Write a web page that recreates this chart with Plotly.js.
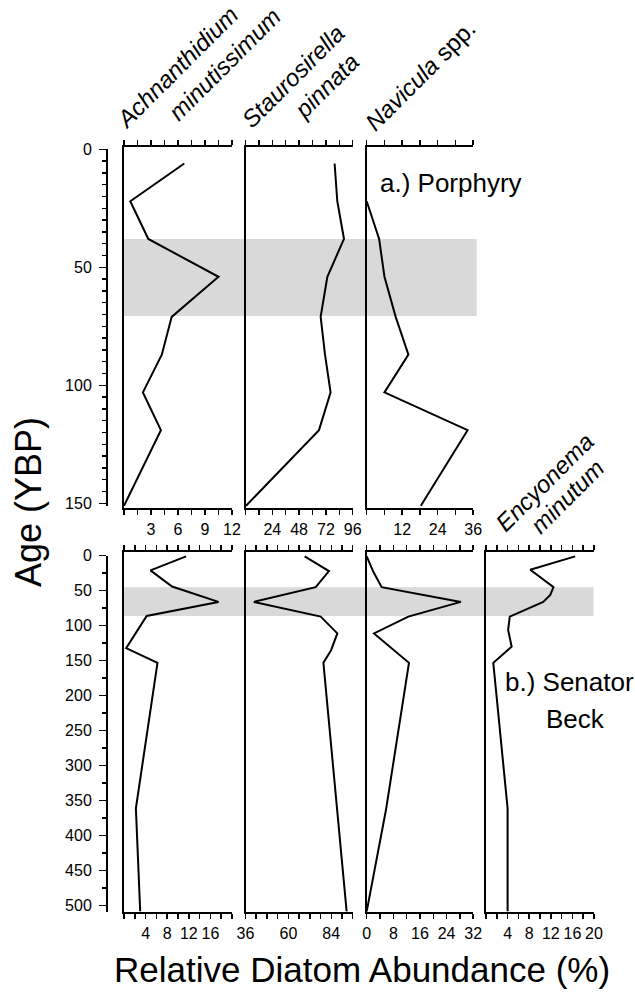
<!DOCTYPE html>
<html>
<head>
<meta charset="utf-8">
<script src="https://cdn.plot.ly/plotly-3.0.1.min.js"></script>
<style>
html,body{margin:0;padding:0;background:#fff;}
#chart{width:635px;height:996px;}
</style>
</head>
<body>
<div id="chart"></div>
<script>
// ---------------- DATA ----------------
// a.) Porphyry
const porAge = [6, 22, 38, 54, 71, 87, 103, 119, 151];
const porAchnanthidium = [6.7, 0.7, 2.7, 10.5, 5.3, 4.2, 2.1, 4.1, 0];
const porStaurosirella = [79.8, 82.2, 88.2, 73.3, 67.3, 71.2, 76.2, 65.8, 0.5];
const porNaviculaAge = [22, 38, 54, 71, 87, 103, 119, 151];
const porNavicula = [0, 4.2, 6.0, 9.8, 14.1, 6.0, 34.1, 18.3];
const porBand = [38, 70.6];

// b.) Senator Beck
const sbAchAge = [1, 21, 44, 66, 86, 132, 153, 361, 508];
const sbAchnanthidium = [11.5, 4.9, 8.9, 17.5, 4.2, 0.4, 6.2, 2.2, 3.0];
const sbStaAge = [1, 22, 45, 66, 87, 111, 135, 153, 508];
const sbStaurosirella = [69.1, 82.7, 75.3, 40.7, 78.1, 87.4, 83.9, 79.6, 92.6];
const sbNavAge = [1, 23, 45, 66, 87, 111, 153, 363, 508];
const sbNavicula = [0, 2.0, 4.5, 28.3, 12.5, 2.2, 12.7, 5.8, 0];
const sbEncAge = [1, 20, 45, 56, 66, 87, 106, 130, 153, 361, 508];
const sbEncyonema = [16.5, 8.2, 12.5, 11.9, 10.6, 4.4, 4.1, 4.75, 1.35, 4.0, 4.0];
const sbBand = [45, 86];

// tick values / labels
const porAchTicks = [0, 1.5, 3, 4.5, 6, 7.5, 9, 10.5, 12];
const porAchLabels = ['', '', '3', '', '6', '', '9', '', '12'];
const porStaTicks = [0, 12, 24, 36, 48, 60, 72, 84, 96];
const porStaLabels = ['', '', '24', '', '48', '', '72', '', '96'];
const porNavTicks = [0, 6, 12, 18, 24, 30, 36];
const porNavLabels = ['', '', '12', '', '24', '', '36'];
const sbAchTicks = [0, 2, 4, 6, 8, 10, 12, 14, 16, 18, 20];
const sbAchLabels = ['', '', '4', '', '8', '', '12', '', '16', '', ''];
const sbStaTicks = [36, 42, 48, 54, 60, 66, 72, 78, 84, 90, 96];
const sbStaLabels = ['36', '', '', '', '60', '', '', '', '84', '', ''];
const sbNavTicks = [0, 4, 8, 12, 16, 20, 24, 28, 32];
const sbNavLabels = ['0', '', '8', '', '16', '', '24', '', '32'];
const sbEncTicks = [0, 2, 4, 6, 8, 10, 12, 14, 16, 18, 20];
const sbEncLabels = ['', '', '4', '', '8', '', '12', '', '16', '', '20'];
const porAgeTicks = [0, 50, 100, 150];
const sbAgeTicks = [0, 50, 100, 150, 200, 250, 300, 350, 400, 450, 500];

// ---------------- LAYOUT HELPERS ----------------
const W = 635, H = 996;
const px = v => v / W;
const py = v => 1 - v / H;
const SANS = '"Liberation Sans", Arial, sans-serif';

const colX = [[124, 232], [245.5, 352.7], [366.7, 473.2], [486, 594]];
const topRowPx = [147, 508];
const botRowPx = [551.7, 912];

function xAxis(col, range, tv, tt, anchor) {
  return {
    domain: [px(colX[col][0]), px(colX[col][1])],
    range: range, anchor: anchor,
    tickmode: 'array', tickvals: tv, ticktext: tt, tickangle: 0,
    showline: true, linewidth: 2, linecolor: '#000', mirror: 'ticks',
    ticks: 'outside', ticklen: 5, tickwidth: 1.5, tickcolor: '#000',
    showgrid: false, zeroline: false, fixedrange: true,
    tickfont: {family: SANS, size: 16, color: '#000'},
    ticklabelstandoff: 1
  };
}
function yAxis(rowPx, range, anchor) {
  return {
    domain: [py(rowPx[1]), py(rowPx[0])],
    range: range, anchor: anchor,
    showline: true, linewidth: 2, linecolor: '#000', mirror: false,
    ticks: '', showticklabels: false, showgrid: false, zeroline: false, fixedrange: true
  };
}
function ageAxis(domPx, range, tv, minorStep) {
  return {
    domain: [py(domPx[1]), py(domPx[0])],
    range: range, anchor: 'free', position: px(107), side: 'left',
    tickmode: 'array', tickvals: tv,
    showline: true, linewidth: 2, linecolor: '#000',
    ticks: 'outside', ticklen: 7, tickwidth: 1.5, tickcolor: '#000',
    minor: {dtick: minorStep, tick0: 0, ticks: 'outside', ticklen: 4, tickwidth: 1.5, tickcolor: '#000', showgrid: false},
    showgrid: false, zeroline: false, fixedrange: true,
    tickfont: {family: SANS, size: 16, color: '#000'},
    ticklabelstandoff: 4
  };
}

const topRange = [151.98, -0.975];
const botRange = [509, -5.71];

const lineStyle = {color: '#000', width: 2};
function tr(x, y, xa, ya) {
  return {x: x, y: y, xaxis: xa, yaxis: ya, type: 'scatter', mode: 'lines', line: lineStyle, hoverinfo: 'skip', showlegend: false};
}

const data = [
  tr(porAchnanthidium, porAge, 'x', 'y'),
  tr(porStaurosirella, porAge, 'x2', 'y2'),
  tr(porNavicula, porNaviculaAge, 'x3', 'y3'),
  tr(sbAchnanthidium, sbAchAge, 'x4', 'y4'),
  tr(sbStaurosirella, sbStaAge, 'x5', 'y5'),
  tr(sbNavicula, sbNavAge, 'x6', 'y6'),
  tr(sbEncyonema, sbEncAge, 'x7', 'y7'),
  // carriers for the labelled age axes
  {x: [], y: [], xaxis: 'x', yaxis: 'y8', type: 'scatter', mode: 'lines', showlegend: false, hoverinfo: 'skip'},
  {x: [], y: [], xaxis: 'x4', yaxis: 'y9', type: 'scatter', mode: 'lines', showlegend: false, hoverinfo: 'skip'}
];

function ann(text, xPx, yPx, size, opts) {
  return Object.assign({
    text: text, x: px(xPx), y: py(yPx), xref: 'paper', yref: 'paper',
    showarrow: false, xanchor: 'center', yanchor: 'middle',
    font: {family: SANS, size: size, color: '#000'}
  }, opts || {});
}
const HA = -45;
const annotations = [
  ann('<i>Achnanthidium</i>', 177, 68, 24, {textangle: HA}),
  ann('<i>minutissimum</i>', 224, 64, 24, {textangle: HA}),
  ann('<i>Staurosirella</i>', 293, 77, 24, {textangle: HA}),
  ann('<i>pinnata</i>', 327, 86, 24, {textangle: HA}),
  ann('<i>Navicula</i> spp.', 420, 75, 24, {textangle: HA}),
  ann('<i>Encyonema</i>', 544, 482, 24, {textangle: HA}),
  ann('<i>minutum</i>', 567, 496, 24, {textangle: HA}),
  ann('a.) Porphyry', 378, 183, 26, {xanchor: 'left'}),
  ann('b.) Senator', 503, 682, 26, {xanchor: 'left'}),
  ann('Beck', 575, 719, 26),
  ann('Age (YBP)', 28, 502, 36, {textangle: -90}),
  ann('Relative Diatom Abundance (%)', 112, 969, 35, {xanchor: 'left'})
];

const shapes = [
  {type: 'rect', xref: 'paper', yref: 'y', x0: px(124), x1: px(476.7), y0: porBand[0], y1: porBand[1],
   fillcolor: '#d9d9d9', line: {width: 0}, layer: 'below'},
  {type: 'rect', xref: 'paper', yref: 'y4', x0: px(124), x1: px(593.5), y0: sbBand[0], y1: sbBand[1],
   fillcolor: '#d9d9d9', line: {width: 0}, layer: 'below'}
];

const layout = {
  width: W, height: H,
  margin: {l: 0, r: 0, t: 0, b: 0},
  paper_bgcolor: '#fff', plot_bgcolor: 'rgba(0,0,0,0)',
  showlegend: false,
  xaxis: xAxis(0, [0, 12], porAchTicks, porAchLabels, 'y'),
  xaxis2: xAxis(1, [0, 96], porStaTicks, porStaLabels, 'y2'),
  xaxis3: xAxis(2, [0, 36], porNavTicks, porNavLabels, 'y3'),
  xaxis4: xAxis(0, [0, 20], sbAchTicks, sbAchLabels, 'y4'),
  xaxis5: xAxis(1, [36, 96], sbStaTicks, sbStaLabels, 'y5'),
  xaxis6: xAxis(2, [0, 32], sbNavTicks, sbNavLabels, 'y6'),
  xaxis7: xAxis(3, [0, 20], sbEncTicks, sbEncLabels, 'y7'),
  yaxis: yAxis(topRowPx, topRange, 'x'),
  yaxis2: yAxis(topRowPx, topRange, 'x2'),
  yaxis3: yAxis(topRowPx, topRange, 'x3'),
  yaxis4: yAxis(botRowPx, botRange, 'x4'),
  yaxis5: yAxis(botRowPx, botRange, 'x5'),
  yaxis6: yAxis(botRowPx, botRange, 'x6'),
  yaxis7: yAxis(botRowPx, botRange, 'x7'),
  yaxis8: ageAxis([149.3, 505.7], [151, 0], porAgeTicks, 5),
  yaxis9: ageAxis([555.7, 911.7], [508.6, 0], sbAgeTicks, 25),
  annotations: annotations,
  shapes: shapes
};

Plotly.newPlot('chart', data, layout, {staticPlot: true, displayModeBar: false});
</script>
</body>
</html>
